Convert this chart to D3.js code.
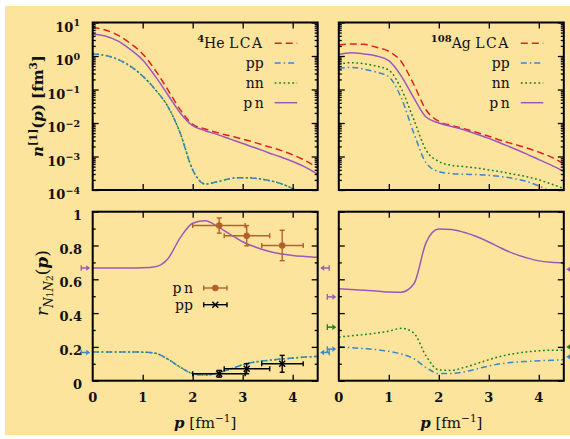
<!DOCTYPE html>
<html>
<head>
<meta charset="utf-8">
<script src="https://cdn.jsdelivr.net/npm/d3@7"></script>
<style>
  html, body { margin: 0; padding: 0; background: #ffffff; }
  svg { display: block; }
</style>
</head>
<body>
<svg id="chart" width="570" height="439"></svg>
<script>
// ---------- data ----------
// momentum grid (fm^-1) shared by every curve
const momentum = [0, 0.25, 0.5, 0.75, 1, 1.25, 1.5, 1.75, 2, 2.25, 2.5, 2.75, 3, 3.25, 3.5, 3.75, 4, 4.25, 4.5];

// one-body momentum distributions n^[1](p) [fm^3], 4He
const heLCA = [7.2, 6.0, 4.2, 2.4, 1.15, 0.38, 0.10, 0.025, 0.0091, 0.0066, 0.0051, 0.0041, 0.0033, 0.0026, 0.0020, 0.00155, 0.00112, 0.00076, 0.00045];
const hePN  = [4.57, 3.98, 2.82, 1.58, 0.76, 0.25, 0.071, 0.020, 0.0083, 0.0059, 0.0045, 0.0033, 0.00245, 0.00182, 0.00132, 0.00098, 0.00071, 0.00048, 0.000295];
const hePP  = [1.15, 1.05, 0.79, 0.50, 0.25, 0.10, 0.0316, 0.0050, 0.00040, 0.000151, 0.000178, 0.000219, 0.000234, 0.000224, 0.000195, 0.000158, 0.000110, 0.0000708, 0.0000447];
const heNN  = [1.15, 1.05, 0.79, 0.50, 0.25, 0.10, 0.0316, 0.0050, 0.00040, 0.000151, 0.000178, 0.000219, 0.000234, 0.000224, 0.000195, 0.000158, 0.000110, 0.0000708, 0.0000447];

// one-body momentum distributions n^[1](p) [fm^3], 108Ag
const agLCA = [2.14, 2.29, 2.24, 1.82, 1.38, 0.676, 0.141, 0.024, 0.0112, 0.0085, 0.0068, 0.0053, 0.0040, 0.0030, 0.00234, 0.00182, 0.00135, 0.00096, 0.00060];
const agPN  = [1.12, 1.26, 1.15, 1.0, 0.724, 0.251, 0.056, 0.0148, 0.0100, 0.0079, 0.0063, 0.0047, 0.00347, 0.00245, 0.00174, 0.00120, 0.00081, 0.00055, 0.000355];
const agNN  = [0.575, 0.631, 0.589, 0.501, 0.380, 0.105, 0.0126, 0.00151, 0.00071, 0.00055, 0.00050, 0.000457, 0.000398, 0.000347, 0.000295, 0.000251, 0.000200, 0.000151, 0.000110];
const agPP  = [0.427, 0.457, 0.407, 0.331, 0.240, 0.056, 0.0050, 0.00063, 0.000355, 0.000309, 0.000295, 0.000288, 0.000275, 0.000251, 0.000219, 0.000182, 0.000132, 0.0000891, 0.0000631];

// pair ratios r_N1N2(p)
const heRatioPN = [0.667, 0.667, 0.667, 0.667, 0.668, 0.674, 0.72, 0.845, 0.932, 0.946, 0.912, 0.866, 0.822, 0.791, 0.767, 0.751, 0.741, 0.735, 0.73];
const heRatioPP = [0.170, 0.170, 0.170, 0.170, 0.169, 0.163, 0.128, 0.080, 0.042, 0.033, 0.046, 0.068, 0.095, 0.111, 0.120, 0.128, 0.134, 0.140, 0.144];
const heRatioNN = [0.170, 0.170, 0.170, 0.170, 0.169, 0.163, 0.128, 0.080, 0.042, 0.033, 0.046, 0.068, 0.095, 0.111, 0.120, 0.128, 0.134, 0.140, 0.144];
const agRatioPN = [0.544, 0.539, 0.535, 0.531, 0.525, 0.524, 0.572, 0.82, 0.897, 0.895, 0.878, 0.853, 0.821, 0.784, 0.752, 0.728, 0.709, 0.701, 0.698];
const agRatioNN = [0.258, 0.266, 0.273, 0.282, 0.293, 0.310, 0.282, 0.144, 0.064, 0.061, 0.078, 0.100, 0.124, 0.145, 0.160, 0.170, 0.177, 0.180, 0.180];
const agRatioPP = [0.203, 0.195, 0.190, 0.184, 0.174, 0.158, 0.130, 0.077, 0.043, 0.043, 0.052, 0.069, 0.087, 0.101, 0.109, 0.114, 0.118, 0.121, 0.124];

// measured ratios with momentum bins and uncertainties
const expMomentum = [2.53, 3.08, 3.79];
const expMomLow   = [2.0, 2.63, 3.38];
const expMomHigh  = [3.05, 3.54, 4.21];
const expPN       = [0.918, 0.858, 0.80];
const expPNErr    = [0.045, 0.06, 0.09];
const expPP       = [0.041, 0.071, 0.10];
const expPPErr    = [0.02, 0.03, 0.05];

// pair-counting limits marked on the panel edges
const heEdgeLeft  = [["pn", 0.667], ["pp", 0.167]];
const heEdgeRight = [["pn", 0.667], ["pp", 0.167]];
const agEdgeLeft  = [["pn", 0.496], ["nn", 0.317], ["pp", 0.187]];
const agEdgeRight = [["pn", 0.659], ["nn", 0.200], ["pp", 0.141]];

// axis ticks
const momentumTicks = [0, 1, 2, 3, 4];
const decades = [1, 0, -1, -2, -3, -4];
const ratioTicks = [0, 0.2, 0.4, 0.6, 0.8, 1];
const ratioTickLabels = ["0", "0.2", "0.4", "0.6", "0.8", "1"];
const ratioMinorTicks = [0.1, 0.3, 0.5, 0.7, 0.9];

// ---------- styles ----------
const FONT = "'DejaVu Serif', 'Liberation Serif', serif";
const colors = { lca: "#e41f1c", pp: "#3b86c8", nn: "#17801a", pn: "#9a58bd", expPN: "#b3602b", expPP: "#000000" };
const dashes = { lca: "7,4", pp: "6,3,1.5,3", nn: "1.8,2.6", pn: null };

const svg = d3.select("#chart");
svg.append("rect").attr("x", 5).attr("y", 6).attr("width", 565).attr("height", 429).attr("fill", "#fde49d");

// panel geometry
const colX = [[92.7, 317.7], [338.8, 563.8]];
const topY = [190, 22.5];
const botY = [380.7, 211.7];

const xScales = colX.map(r => d3.scaleLinear().domain([0, 4.5]).range(r));
const yLog = d3.scaleLog().domain([1e-4, 1e1]).range(topY);
const yRatio = d3.scaleLinear().domain([0, 1]).range(botY);

const defs = svg.append("defs");
function clipFor(id, x, y) {
  defs.append("clipPath").attr("id", id).append("rect")
    .attr("x", x[0]).attr("y", y[1]).attr("width", x[1] - x[0]).attr("height", y[0] - y[1]);
  return "url(#" + id + ")";
}

function drawCurve(g, xs, ys, values, key) {
  const line = d3.line().x((d, i) => xs(momentum[i])).y(d => ys(d)).curve(d3.curveMonotoneX);
  const p = g.append("path").attr("d", line(values)).attr("fill", "none")
    .attr("stroke", colors[key]).attr("stroke-width", 1.5);
  if (dashes[key]) p.attr("stroke-dasharray", dashes[key]);
  return p;
}

function ticks(g, axisFn, scale, values, size, transform) {
  const a = g.append("g").attr("transform", transform)
    .call(axisFn(scale).tickValues(values).tickSize(size).tickFormat(""));
  a.select(".domain").remove();
  a.selectAll(".tick line").attr("stroke", "#000").attr("stroke-width", 1.3);
  a.selectAll(".tick text").remove();
}

function frame(g, x, y) {
  g.append("rect").attr("x", x[0]).attr("y", y[1]).attr("width", x[1] - x[0]).attr("height", y[0] - y[1])
    .attr("fill", "none").attr("stroke", "#000").attr("stroke-width", 2);
}

// rich text helper: parts = [text, {italic, bold, sup, sub, size}]
function rich(textSel, parts, baseSize) {
  let shift = 0;
  parts.forEach(([t, o]) => {
    o = o || {};
    const target = o.sup ? -0.42 * baseSize : o.sub ? 0.3 * baseSize : 0;
    const ts = textSel.append("tspan").text(t).attr("dy", target - shift);
    shift = target;
    if (o.italic) ts.attr("font-style", "italic");
    if (o.bold !== undefined) ts.attr("font-weight", o.bold ? "bold" : "normal");
    if (o.size) ts.attr("font-size", o.size);
    if (o.ls) ts.attr("letter-spacing", o.ls);
  });
}

// ---------- top panels: momentum distributions ----------
const topSets = [
  { nucleus: "4", elem: "He", lca: heLCA, pp: hePP, nn: heNN, pn: hePN },
  { nucleus: "108", elem: "Ag", lca: agLCA, pp: agPP, nn: agNN, pn: agPN }
];

topSets.forEach((s, c) => {
  const xs = xScales[c];
  const g = svg.append("g");
  const cg = g.append("g").attr("clip-path", clipFor("clipTop" + c, colX[c], topY));
  drawCurve(cg, xs, yLog, s.lca, "lca");
  drawCurve(cg, xs, yLog, s.nn, "nn");
  drawCurve(cg, xs, yLog, s.pp, "pp");
  drawCurve(cg, xs, yLog, s.pn, "pn");

  const major = decades.map(d => Math.pow(10, d));
  const minor = [];
  for (let d = -4; d < 1; d++) for (let m = 2; m <= 9; m++) minor.push(m * Math.pow(10, d));
  ticks(g, d3.axisLeft, yLog, major, -6, `translate(${colX[c][0]},0)`);
  ticks(g, d3.axisLeft, yLog, minor, -3, `translate(${colX[c][0]},0)`);
  ticks(g, d3.axisRight, yLog, major, -6, `translate(${colX[c][1]},0)`);
  ticks(g, d3.axisRight, yLog, minor, -3, `translate(${colX[c][1]},0)`);
  ticks(g, d3.axisBottom, xs, momentumTicks.slice(1), -6, `translate(0,${topY[0]})`);
  ticks(g, d3.axisTop, xs, momentumTicks.slice(1), -6, `translate(0,${topY[1]})`);
  frame(g, colX[c], topY);

  // legend
  const textRight = colX[c][0] + 171;
  const sx0 = colX[c][0] + 182, sx1 = colX[c][0] + 204.5;
  const entries = [["lca", null], ["pp", "pp"], ["nn", "nn"], ["pn", "pn"]];
  entries.forEach(([key, label], i) => {
    const yy = 43.3 + i * 19.8;
    const t = g.append("text").attr("x", textRight).attr("y", yy + 5).attr("text-anchor", "end")
      .attr("font-family", FONT).attr("font-size", 14).attr("fill", "#111");
    if (key === "lca") {
      rich(t, [[s.nucleus, { sup: true, bold: true, size: 10 }], [s.elem + " ", {}], ["LCA", { ls: 1.5 }]], 14);
    } else if (key === "pn") {
      t.attr("letter-spacing", 2.5).attr("x", textRight + 2.5).text(label);
    } else {
      t.text(label);
    }
    const l = g.append("line").attr("x1", sx0).attr("x2", sx1).attr("y1", yy).attr("y2", yy)
      .attr("stroke", colors[key]).attr("stroke-width", 1.5);
    if (dashes[key]) l.attr("stroke-dasharray", dashes[key]);
  });
});

// log axis labels
decades.forEach(d => {
  const t = svg.append("text").attr("x", 80).attr("y", yLog(Math.pow(10, d)) + 9)
    .attr("text-anchor", "end").attr("font-family", FONT).attr("font-size", 13)
    .attr("font-weight", "bold").attr("fill", "#111");
  rich(t, [["10", {}], [d < 0 ? "\u2212" + (-d) : String(d), { sup: true, size: 9.5 }]], 13);
});

// ---------- bottom panels: pair ratios ----------
const botSets = [
  { curves: [["nn", heRatioNN], ["pp", heRatioPP], ["pn", heRatioPN]], left: heEdgeLeft, right: heEdgeRight },
  { curves: [["nn", agRatioNN], ["pp", agRatioPP], ["pn", agRatioPN]], left: agEdgeLeft, right: agEdgeRight }
];

function edgeMarker(g, xAxis, y, dir, color) {
  // dir = +1: marker sits left of the axis pointing right; -1: right of axis pointing left
  const tip = xAxis - dir * 2.5;
  const base = tip - dir * 4;
  const tail = tip - dir * 9;
  g.append("line").attr("x1", tail).attr("x2", base).attr("y1", y).attr("y2", y)
    .attr("stroke", color).attr("stroke-width", 1.5);
  g.append("line").attr("x1", tail).attr("x2", tail).attr("y1", y - 2.8).attr("y2", y + 2.8)
    .attr("stroke", color).attr("stroke-width", 1.3);
  g.append("path").attr("d", `M${tip},${y}L${base},${y - 2.8}L${base},${y + 2.8}Z`).attr("fill", color);
}

botSets.forEach((s, c) => {
  const xs = xScales[c];
  const g = svg.append("g");
  const cg = g.append("g").attr("clip-path", clipFor("clipBot" + c, colX[c], botY));
  s.curves.forEach(([key, vals]) => drawCurve(cg, xs, yRatio, vals, key));

  ticks(g, d3.axisLeft, yRatio, ratioTicks, -6, `translate(${colX[c][0]},0)`);
  ticks(g, d3.axisLeft, yRatio, ratioMinorTicks, -3, `translate(${colX[c][0]},0)`);
  ticks(g, d3.axisRight, yRatio, ratioTicks, -6, `translate(${colX[c][1]},0)`);
  ticks(g, d3.axisRight, yRatio, ratioMinorTicks, -3, `translate(${colX[c][1]},0)`);
  ticks(g, d3.axisBottom, xs, momentumTicks.slice(1), -6, `translate(0,${botY[0]})`);
  ticks(g, d3.axisTop, xs, momentumTicks.slice(1), -6, `translate(0,${botY[1]})`);
  frame(g, colX[c], botY);

  s.left.forEach(([key, v]) => edgeMarker(svg, colX[c][0], yRatio(v), 1, colors[key]));
  s.right.forEach(([key, v]) => edgeMarker(svg, colX[c][1], yRatio(v), -1, colors[key]));

  // momentum tick labels
  momentumTicks.forEach(v => {
    svg.append("text").attr("x", xs(v)).attr("y", 401.5).attr("text-anchor", "middle")
      .attr("font-family", FONT).attr("font-size", 13).attr("font-weight", "bold").attr("fill", "#111").text(v);
  });

  // x axis title
  const xt = svg.append("text").attr("x", (colX[c][0] + colX[c][1]) / 2).attr("y", 428)
    .attr("text-anchor", "middle").attr("font-family", FONT).attr("font-size", 15).attr("fill", "#111");
  rich(xt, [["p", { italic: true, bold: true }], [" [fm", {}], ["\u22121", { sup: true, size: 10.5 }], ["]", { size: 15 }]], 15);
  xt.select("tspan:last-child").attr("dy", 0.42 * 15);
});

// ratio axis labels
ratioTicks.forEach((v, i) => {
  svg.append("text").attr("x", 82).attr("y", yRatio(v) + 8).attr("text-anchor", "end")
    .attr("font-family", FONT).attr("font-size", 13).attr("font-weight", "bold").attr("fill", "#111")
    .text(ratioTickLabels[i]);
});

// measured points (4He panel)
const xe = xScales[0];
const expG = svg.append("g");
function errorBars(vals, errs, color) {
  vals.forEach((v, i) => {
    const cx = xe(expMomentum[i]), cy = yRatio(v);
    const xl = xe(expMomLow[i]), xh = xe(expMomHigh[i]);
    const yl = yRatio(v - errs[i]), yh = yRatio(v + errs[i]);
    const st = sel => sel.attr("stroke", color).attr("stroke-width", 1.4);
    st(expG.append("line").attr("x1", xl).attr("x2", xh).attr("y1", cy).attr("y2", cy));
    st(expG.append("line").attr("x1", xl).attr("x2", xl).attr("y1", cy - 2.5).attr("y2", cy + 2.5));
    st(expG.append("line").attr("x1", xh).attr("x2", xh).attr("y1", cy - 2.5).attr("y2", cy + 2.5));
    st(expG.append("line").attr("x1", cx).attr("x2", cx).attr("y1", yl).attr("y2", yh));
    st(expG.append("line").attr("x1", cx - 2.5).attr("x2", cx + 2.5).attr("y1", yl).attr("y2", yl));
    st(expG.append("line").attr("x1", cx - 2.5).attr("x2", cx + 2.5).attr("y1", yh).attr("y2", yh));
  });
}
function circleMark(g, x, y) {
  g.append("circle").attr("cx", x).attr("cy", y).attr("r", 3.2).attr("fill", colors.expPN);
}
function crossMark(g, x, y) {
  g.append("path").attr("d", `M${x - 3},${y - 3}L${x + 3},${y + 3}M${x - 3},${y + 3}L${x + 3},${y - 3}`)
    .attr("stroke", colors.expPP).attr("stroke-width", 1.5);
}
errorBars(expPN, expPNErr, colors.expPN);
expPN.forEach((v, i) => circleMark(expG, xe(expMomentum[i]), yRatio(v)));
errorBars(expPP, expPPErr, colors.expPP);
expPP.forEach((v, i) => crossMark(expG, xe(expMomentum[i]), yRatio(v)));

// legend for measured points
[["pn", colors.expPN, circleMark, 2.5], ["pp", colors.expPP, crossMark, 0]].forEach(([label, color, mark, ls], i) => {
  const yy = 288 + i * 16.7;
  svg.append("text").attr("x", 193 + ls).attr("y", yy + 5).attr("text-anchor", "end")
    .attr("font-family", FONT).attr("font-size", 14).attr("letter-spacing", ls).attr("fill", "#111").text(label);
  const st = sel => sel.attr("stroke", color).attr("stroke-width", 1.4);
  st(svg.append("line").attr("x1", 203.7).attr("x2", 227).attr("y1", yy).attr("y2", yy));
  st(svg.append("line").attr("x1", 203.7).attr("x2", 203.7).attr("y1", yy - 2.5).attr("y2", yy + 2.5));
  st(svg.append("line").attr("x1", 227).attr("x2", 227).attr("y1", yy - 2.5).attr("y2", yy + 2.5));
  mark(svg, 215.3, yy);
});

// y axis titles
const yt1 = svg.append("text").attr("transform", "translate(43,106) rotate(-90)").attr("text-anchor", "middle")
  .attr("font-family", FONT).attr("font-size", 15).attr("font-weight", "bold").attr("fill", "#111");
rich(yt1, [["n", { italic: true }], ["[1]", { sup: true, size: 10.5 }], ["(", {}], ["p", { italic: true }], [") [fm", {}], ["3", { sup: true, size: 10.5 }], ["]", {}]], 15);

const yt2 = svg.append("text").attr("transform", "translate(48,283) rotate(-90)").attr("text-anchor", "middle")
  .attr("font-family", FONT).attr("font-size", 17).attr("fill", "#111");
rich(yt2, [["r", { italic: true }], ["N", { sub: true, italic: true, size: 12 }], ["1", { sub: true, size: 9 }], ["N", { sub: true, italic: true, size: 12 }], ["2", { sub: true, size: 9 }], ["(", {}], ["p", { italic: true, bold: true }], [")", {}]], 17);
</script>
</body>
</html>
